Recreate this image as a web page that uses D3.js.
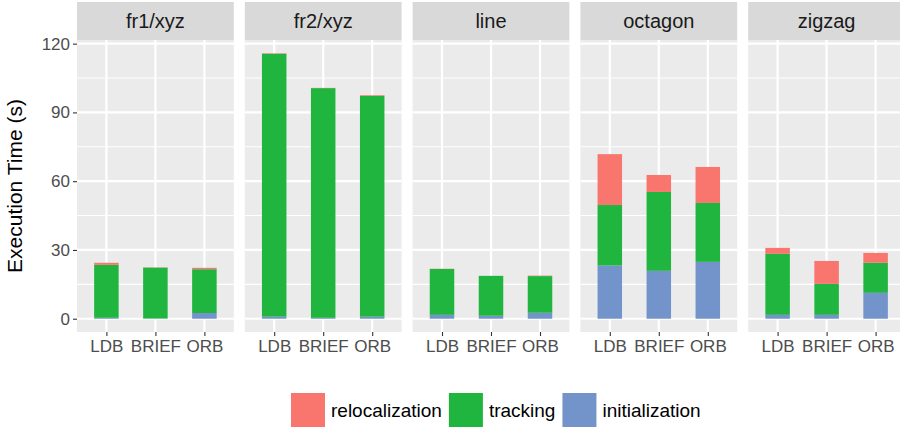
<!DOCTYPE html>
<html>
<head>
<meta charset="utf-8">
<script src="https://cdn.jsdelivr.net/npm/d3@7"></script>
<style>
  html, body { margin: 0; padding: 0; background: #fff; }
  svg { display: block; font-family: "Liberation Sans", Arial, sans-serif; }
</style>
</head>
<body>
<svg id="chart" width="900" height="430"></svg>
<script>
// ---- data ----
const datasets = ["fr1/xyz", "fr2/xyz", "line", "octagon", "zigzag"];
const methods = ["LDB", "BRIEF", "ORB"];
const seriesNames = ["relocalization", "tracking", "initialization"];
const seriesColors = ["#F8766D", "#1FB53F", "#7393CB"];
// values per dataset, in order of methods
const initialization = [
  [0.4, 0.1, 2.5],
  [0.9, 0.4, 0.9],
  [1.7, 1.3, 2.6],
  [23.2, 20.9, 24.8],
  [1.7, 1.7, 11.3]
];
const tracking = [
  [23.1, 22.2, 19.1],
  [114.7, 100.2, 96.3],
  [20.0, 17.4, 16.0],
  [26.4, 34.4, 25.7],
  [26.6, 13.5, 13.1]
];
const relocalization = [
  [0.9, 0.1, 0.6],
  [0.2, 0.1, 0.3],
  [0.1, 0.0, 0.2],
  [22.2, 7.4, 15.7],
  [2.6, 10.0, 4.3]
];
const yTicks = [0, 30, 60, 90, 120];
const yMinorTicks = [15, 45, 75, 105];
const yTitle = "Execution Time (s)";

// ---- layout ----
const svg = d3.select("#chart");
const panelLeft = 77, panelWidth = 156.8, panelStep = 167.8;
const stripTop = 2, stripH = 38;
const panelTop = stripTop + stripH, panelBottom = 332;

// stacked rows
const rows = [];
datasets.forEach((ds, i) => {
  methods.forEach((m, j) => {
    rows.push({dataset: ds, method: m,
      initialization: initialization[i][j],
      tracking: tracking[i][j],
      relocalization: relocalization[i][j]});
  });
});
const stackKeys = ["initialization", "tracking", "relocalization"];
const stacked = d3.stack().keys(stackKeys)(rows);
const maxTotal = d3.max(rows, r => r.initialization + r.tracking + r.relocalization);

const y = d3.scaleLinear()
  .domain([-0.05 * maxTotal, maxTotal * 1.05])
  .range([panelBottom, panelTop]);

const colorOf = d3.scaleOrdinal().domain(seriesNames).range(seriesColors);

datasets.forEach((ds, i) => {
  const x0 = panelLeft + i * panelStep;
  const g = svg.append("g").attr("transform", `translate(${x0},0)`);
  const x = d3.scalePoint().domain(methods).range([0, panelWidth]).padding(0.6);

  // strip
  g.append("rect").attr("x", 0).attr("y", stripTop).attr("width", panelWidth).attr("height", stripH)
    .attr("fill", "#D9D9D9");
  g.append("text").attr("x", panelWidth / 2).attr("y", stripTop + stripH / 2)
    .attr("dy", "0.35em").attr("text-anchor", "middle")
    .attr("font-size", 20).attr("fill", "#1A1A1A").text(ds);

  // panel bg
  g.append("rect").attr("x", 0).attr("y", panelTop).attr("width", panelWidth)
    .attr("height", panelBottom - panelTop).attr("fill", "#EBEBEB");

  // grid
  g.selectAll(".minor").data(yMinorTicks).enter().append("line")
    .attr("x1", 0).attr("x2", panelWidth)
    .attr("y1", d => y(d)).attr("y2", d => y(d))
    .attr("stroke", "#fff").attr("stroke-width", 1.1);
  g.selectAll(".major").data(yTicks).enter().append("line")
    .attr("x1", 0).attr("x2", panelWidth)
    .attr("y1", d => y(d)).attr("y2", d => y(d))
    .attr("stroke", "#fff").attr("stroke-width", 2.2);
  g.selectAll(".vmajor").data(methods).enter().append("line")
    .attr("x1", d => x(d)).attr("x2", d => x(d))
    .attr("y1", panelTop).attr("y2", panelBottom)
    .attr("stroke", "#fff").attr("stroke-width", 2.2);

  // bars
  const barW = x.step() * 0.5;
  stacked.forEach(layer => {
    const key = layer.key;
    layer.filter(d => d.data.dataset === ds).forEach(d => {
      const h = y(d[0]) - y(d[1]);
      if (h <= 0) return;
      g.append("rect")
        .attr("x", x(d.data.method) - barW / 2)
        .attr("y", y(d[1]))
        .attr("width", barW)
        .attr("height", h)
        .attr("fill", colorOf(key));
    });
  });

  // x axis
  const xAxis = d3.axisBottom(x).tickSize(4).tickPadding(4);
  const ax = g.append("g").attr("transform", `translate(0,${panelBottom})`).call(xAxis);
  ax.select(".domain").remove();
  ax.selectAll(".tick line").attr("stroke", "#333").attr("stroke-width", 1.1);
  ax.selectAll(".tick text").attr("fill", "#4D4D4D").attr("font-size", 17)
    .attr("font-family", "Liberation Sans, Arial, sans-serif");
});

// y axis
const yAxis = d3.axisLeft(y).tickValues(yTicks).tickSize(4).tickPadding(3);
const ay = svg.append("g").attr("transform", `translate(${panelLeft},0)`).call(yAxis);
ay.select(".domain").remove();
ay.selectAll(".tick line").attr("stroke", "#333").attr("stroke-width", 1.1);
ay.selectAll(".tick text").attr("fill", "#4D4D4D").attr("font-size", 17)
  .attr("font-family", "Liberation Sans, Arial, sans-serif");

// y title
svg.append("text")
  .attr("transform", `translate(22,${(panelTop + panelBottom) / 2}) rotate(-90)`)
  .attr("text-anchor", "middle").attr("font-size", 21).attr("fill", "#000")
  .text(yTitle);

// legend
const legend = svg.append("g").attr("transform", "translate(291,393)");
let lx = 0;
seriesNames.forEach((name, k) => {
  legend.append("rect").attr("x", lx).attr("y", 0).attr("width", 34).attr("height", 34)
    .attr("fill", seriesColors[k]);
  const t = legend.append("text").attr("x", lx + 40).attr("y", 17).attr("dy", "0.35em")
    .attr("font-size", 19).attr("fill", "#000").text(name);
  const w = t.node().getComputedTextLength();
  lx += 40 + w + 7;
});
</script>
</body>
</html>
